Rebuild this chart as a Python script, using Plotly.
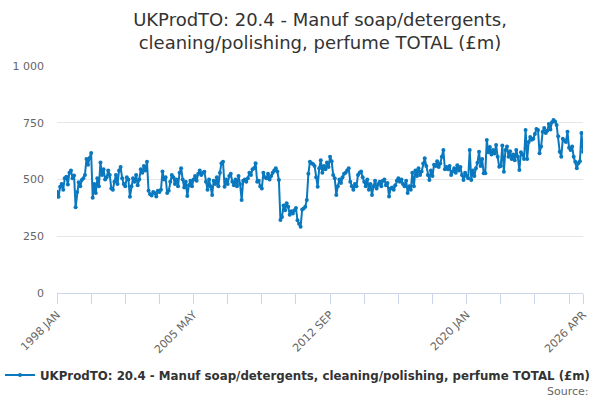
import plotly.graph_objects as go

MONTHS = ["JAN", "FEB", "MAR", "APR", "MAY", "JUN", "JUL", "AUG", "SEP", "OCT", "NOV", "DEC"]

v1998 = [446, 424, 468, 480, 455, 505, 512, 478, 530, 540, 505, 518]
v1999 = [378, 445, 488, 470, 498, 505, 520, 590, 565, 595, 617, 420]
v2000 = [480, 440, 505, 470, 575, 520, 545, 500, 510, 540, 520, 460]
v2001 = [455, 490, 520, 480, 540, 555, 505, 480, 470, 510, 500, 424]
v2002 = [470, 505, 490, 520, 475, 500, 545, 530, 560, 540, 578, 450]
v2003 = [435, 430, 445, 440, 425, 450, 445, 455, 535, 500, 510, 440]
v2004 = [450, 490, 520, 510, 480, 500, 470, 530, 550, 500, 465, 490]
v2005 = [427, 475, 495, 470, 500, 515, 495, 525, 540, 520, 530, 534]
v2006 = [490, 455, 500, 470, 432, 495, 480, 510, 470, 530, 572, 578]
v2007 = [468, 500, 480, 515, 525, 490, 475, 500, 470, 515, 480, 410]
v2008 = [495, 500, 490, 505, 530, 520, 545, 550, 572, 490, 495, 470]
v2009 = [460, 530, 510, 505, 525, 500, 515, 530, 540, 550, 535, 498]
v2010 = [322, 335, 385, 365, 395, 380, 345, 360, 350, 365, 375, 320]
v2011 = [305, 292, 368, 372, 380, 410, 525, 578, 572, 568, 560, 510]
v2012 = [468, 550, 585, 530, 560, 545, 575, 555, 600, 580, 520, 505]
v2013 = [432, 470, 500, 485, 510, 525, 530, 540, 550, 490, 470, 455]
v2014 = [480, 470, 520, 530, 535, 510, 490, 470, 500, 455, 480, 432]
v2015 = [470, 495, 460, 480, 490, 470, 495, 500, 475, 485, 425, 460]
v2016 = [465, 455, 475, 495, 505, 490, 500, 480, 470, 495, 440, 470]
v2017 = [455, 530, 470, 540, 515, 550, 520, 535, 570, 594, 560, 520]
v2018 = [498, 540, 515, 565, 560, 580, 555, 570, 600, 630, 545, 555]
v2019 = [545, 560, 520, 535, 550, 530, 563, 540, 555, 520, 498, 530]
v2020 = [515, 505, 630, 498, 540, 515, 550, 574, 622, 560, 590, 528]
v2021 = [528, 674, 620, 643, 610, 630, 615, 652, 600, 556, 560, 650]
v2022 = [534, 630, 645, 600, 625, 590, 610, 585, 630, 600, 542, 620]
v2023 = [610, 590, 718, 590, 665, 687, 675, 680, 700, 723, 718, 616]
v2024 = [645, 710, 727, 705, 715, 745, 720, 752, 762, 755, 740, 690]
v2025 = [622, 600, 680, 672, 665, 710, 640, 630, 645, 600, 578, 550]
v2026 = [572, 580, 705, 622]

yearly = [v1998, v1999, v2000, v2001, v2002, v2003, v2004, v2005, v2006, v2007,
          v2008, v2009, v2010, v2011, v2012, v2013, v2014, v2015, v2016, v2017,
          v2018, v2019, v2020, v2021, v2022, v2023, v2024, v2025, v2026]

categories = []
values = []
for i, vals in enumerate(yearly):
    year = 1998 + i
    for m, v in enumerate(vals):
        categories.append(f"{year} {MONTHS[m]}")
        values.append(v)

tick_cats = ["1998 JAN", "1999 NOV", "2001 SEP", "2003 JUL", "2005 MAY", "2007 MAR",
             "2009 JAN", "2010 NOV", "2012 SEP", "2014 JUL", "2016 MAY", "2018 MAR",
             "2020 JAN", "2021 NOV", "2023 SEP", "2025 JUL", "2026 APR"]
tick_labels = ["1998 JAN", "", "", "", "2005 MAY", "", "", "", "2012 SEP", "", "", "",
               "2020 JAN", "", "", "", "2026 APR"]

y_ticks = [0, 250, 500, 750, 1000]
y_labels = ["0", "250", "500", "750", "1 000"]

series_name = "UKProdTO: 20.4 - Manuf soap/detergents, cleaning/polishing, perfume TOTAL (£m)"
title_text = "UKProdTO: 20.4 - Manuf soap/detergents,<br>cleaning/polishing, perfume TOTAL (£m)"

color = "#0a78be"
font_family = "DejaVu Sans, sans-serif"

fig = go.Figure()
fig.add_trace(go.Scatter(
    x=categories, y=values, mode="lines+markers", name=series_name,
    line=dict(color=color, width=2),
    marker=dict(color=color, size=4),
))

fig.update_layout(
    width=600, height=400,
    margin=dict(l=57, r=17, t=66, b=107, autoexpand=False),
    paper_bgcolor="white", plot_bgcolor="white",
    font=dict(family=font_family, color="#666666", size=11),
    title=dict(text=title_text, x=0.5, xanchor="center", xref="paper",
               y=1 - 26 / 400, yanchor="middle", yref="container",
               font=dict(size=18, color="#333333", family=font_family)),
    showlegend=True,
    legend=dict(orientation="h", xref="container", yref="container",
                x=0, xanchor="left", y=1 - 375 / 400, yanchor="middle",
                font=dict(size=11.8, color="#333333", family=font_family, weight="bold"),
                itemwidth=30, bgcolor="rgba(0,0,0,0)"),
    annotations=[dict(text="Source:", xref="paper", yref="paper",
                      x=1.0 + 8 / 526, xanchor="right", y=(293 - 391) / 227, yanchor="middle",
                      showarrow=False, font=dict(size=11, color="#666666", family=font_family))],
)

fig.update_xaxes(
    type="category", range=[0, len(categories) - 1], automargin=False,
    tickmode="array", tickvals=tick_cats, ticktext=tick_labels,
    tickangle=-45, ticks="outside", ticklen=10, tickcolor="#ccd6eb", tickwidth=1,
    showline=True, linecolor="#ccd6eb", linewidth=1,
    showgrid=False, zeroline=False,
    tickfont=dict(size=11, color="#666666", family=font_family),
)
fig.update_yaxes(
    range=[0, 1000], tickmode="array", tickvals=y_ticks, ticktext=y_labels, automargin=False,
    showgrid=True, gridcolor="#e6e6e6", gridwidth=1, zeroline=False,
    showline=False, ticks="", ticklabelstandoff=12,
    tickfont=dict(size=11, color="#666666", family=font_family),
)

fig.write_html("out.html", config={"displayModeBar": False},
               post_script="document.body.style.margin='0';")
